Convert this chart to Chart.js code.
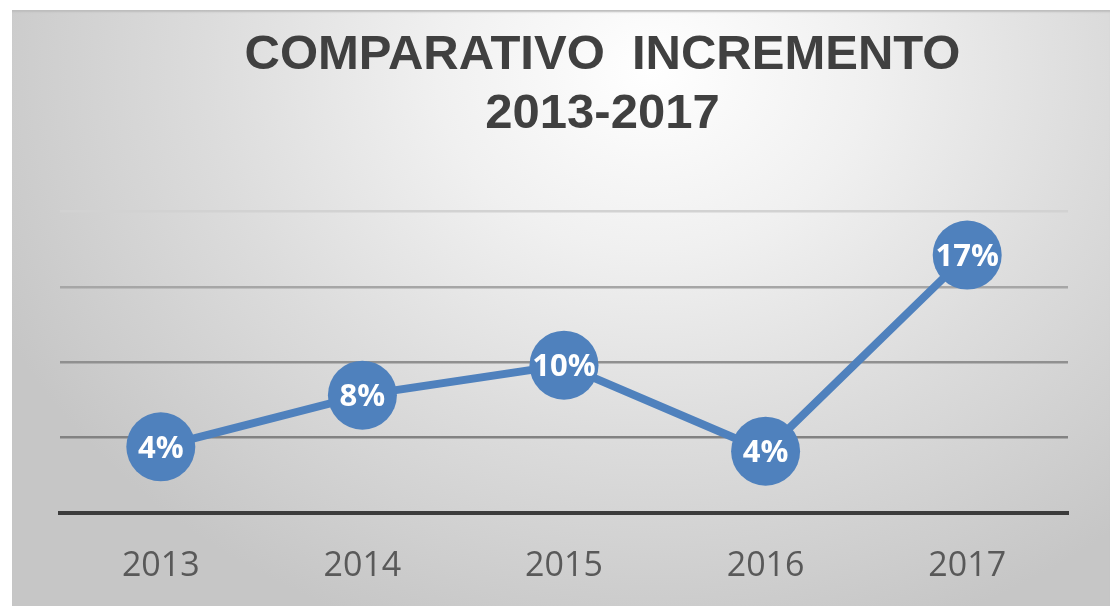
<!DOCTYPE html>
<html>
<head>
<meta charset="utf-8">
<script src="https://cdn.jsdelivr.net/npm/chart.js@4.4.1/dist/chart.umd.min.js"></script>
<style>
  html, body { margin: 0; padding: 0; background: #ffffff; }
  #wrap { position: relative; width: 1110px; height: 606px; overflow: hidden; }
  #panel {
    position: absolute; left: 12px; top: 10px; width: 1098px; height: 596px;
    background: radial-gradient(ellipse 720px 600px at 640px 60px, #ffffff 0%, #f0f0f0 30%, #dcdcdc 62%, #c6c6c6 100%);
    box-shadow: inset 0 3px 2px -1px #bdbdbd;
  }
  canvas { position: absolute; left: 0; top: 0; }
</style>
</head>
<body>
<div id="wrap">
  <div id="panel"></div>
  <canvas id="c" width="1110" height="606"></canvas>
</div>
<script>
const titleLines = ['COMPARATIVO  INCREMENTO', '2013-2017'];
const categories = ['2013', '2014', '2015', '2016', '2017'];
const increments = [4.39, 7.82, 9.81, 4.10, 17.12];
const valueLabels = ['4%', '8%', '10%', '4%', '17%'];
const yTicks = [0, 5, 10, 15, 20];

const gridColors = { 0: 'rgba(0,0,0,0)', 5: '#828282', 10: '#909090', 15: '#a6a6a6', 20: '#d2d2d2' };

const titleShift = {
  id: 'titleShift',
  afterLayout(chart) {
    const t = chart.titleBlock;
    if (t) { t.left = 200; t.right = 1005; }
  }
};

const valueLabelPlugin = {
  id: 'valueLabels',
  afterDatasetsDraw(chart) {
    const ctx = chart.ctx;
    const meta = chart.getDatasetMeta(0);
    ctx.save();
    ctx.fillStyle = '#ffffff';
    ctx.font = 'bold 31px "Open Sans", sans-serif';
    ctx.textAlign = 'center';
    ctx.textBaseline = 'middle';
    meta.data.forEach((pt, i) => {
      ctx.fillText(valueLabels[i], pt.x, pt.y + 2);
    });
    ctx.restore();
  }
};

new Chart(document.getElementById('c'), {
  type: 'line',
  data: {
    labels: categories,
    datasets: [{
      data: increments,
      borderColor: '#4f81bd',
      borderWidth: 8,
      backgroundColor: '#4f81bd',
      pointBackgroundColor: '#4f81bd',
      pointBorderWidth: 0,
      pointRadius: 34.5,
      pointHoverRadius: 34.5,
      tension: 0,
      fill: false,
      clip: false
    }]
  },
  options: {
    responsive: false,
    animation: false,
    events: [],
    layout: { autoPadding: false, padding: { left: 60, right: 42, top: 0, bottom: 0 } },
    plugins: {
      legend: { display: false },
      tooltip: { enabled: false },
      title: {
        display: true,
        text: titleLines,
        color: '#404040',
        font: { family: '"Liberation Sans", Arial, sans-serif', size: 49, weight: 'bold', lineHeight: 1.2 },
        padding: { top: 26, bottom: 68 }
      }
    },
    scales: {
      x: {
        offset: true,
        afterFit(scale) { scale.height = 93; },
        grid: { display: false, drawTicks: false },
        border: { display: true, color: '#3c3c3c', width: 4 },
        ticks: {
          color: '#595959',
          font: { family: '"Open Sans", sans-serif', size: 34 },
          padding: 33
        }
      },
      y: {
        min: 0,
        max: 20,
        afterBuildTicks(scale) { scale.ticks = yTicks.map(v => ({ value: v })); },
        grid: {
          drawTicks: false,
          lineWidth: 2.5,
          color: (c) => gridColors[c.tick.value] || '#999999'
        },
        border: { display: false },
        ticks: { display: false }
      }
    }
  },
  plugins: [titleShift, valueLabelPlugin]
});
</script>
</body>
</html>
